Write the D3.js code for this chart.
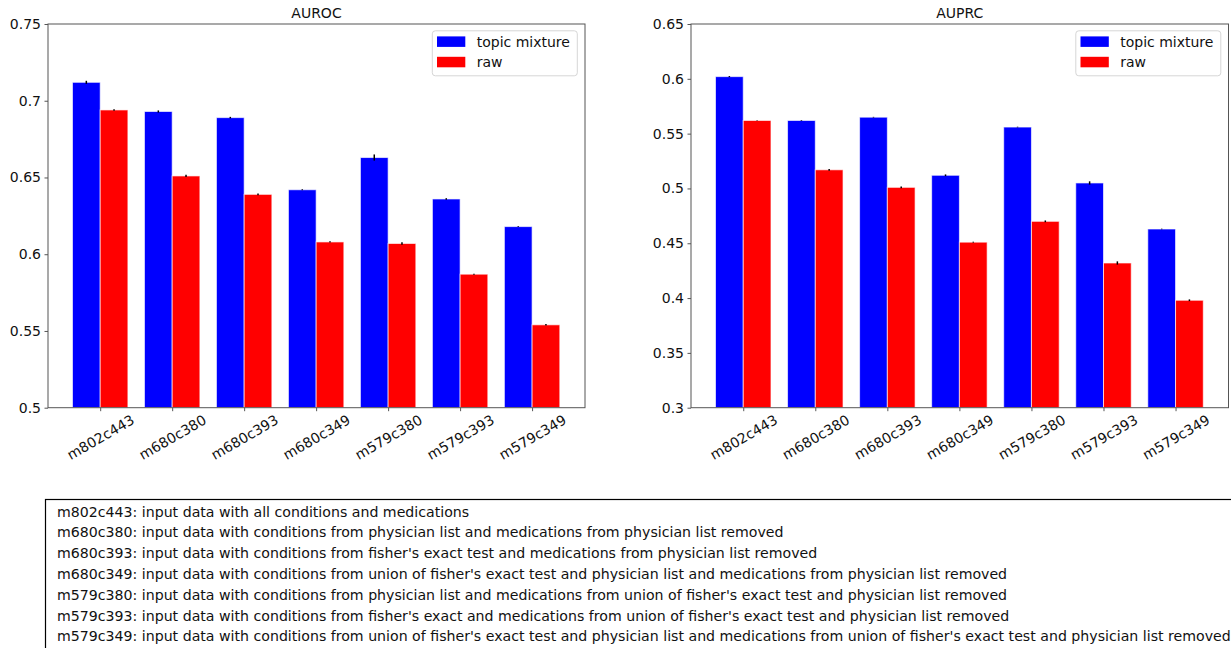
<!DOCTYPE html>
<html>
<head>
<meta charset="utf-8">
<script src="https://cdn.jsdelivr.net/npm/d3@7"></script>
<style>
  html, body { margin: 0; padding: 0; background: #fff; overflow: hidden; }
  svg { display: block; font-family: "DejaVu Sans", sans-serif; }
</style>
</head>
<body>
<svg id="fig" width="1231" height="648"></svg>
<script>
// Dataset variants (x categories)
const categories = ["m802c443", "m680c380", "m680c393", "m680c349", "m579c380", "m579c393", "m579c349"];
const seriesNames = ["topic mixture", "raw"];
const seriesColors = ["#0000ff", "#ff0000"];

// AUROC per variant
const aurocTopic    = [0.712, 0.693, 0.689, 0.642, 0.663, 0.636, 0.618];
const aurocRaw      = [0.694, 0.651, 0.639, 0.608, 0.607, 0.587, 0.554];
const aurocTopicErr = [0.0010, 0.0007, 0.0005, 0.0003, 0.0020, 0.0005, 0.0003];
const aurocRawErr   = [0.0005, 0.0007, 0.0005, 0.0004, 0.0008, 0.0003, 0.0005];
const aurocTicks    = [0.5, 0.55, 0.6, 0.65, 0.7, 0.75];

// AUPRC per variant
const auprcTopic    = [0.602, 0.562, 0.565, 0.512, 0.556, 0.505, 0.463];
const auprcRaw      = [0.562, 0.517, 0.501, 0.451, 0.470, 0.432, 0.398];
const auprcTopicErr = [0.0005, 0.0003, 0.0003, 0.0008, 0.0003, 0.0015, 0.0003];
const auprcRawErr   = [0.0003, 0.0008, 0.0008, 0.0004, 0.0008, 0.0015, 0.0008];
const auprcTicks    = [0.3, 0.35, 0.4, 0.45, 0.5, 0.55, 0.6, 0.65];

// Legend text for the variant codes
const descriptions = [
  "m802c443: input data with all conditions and medications",
  "m680c380: input data with conditions from physician list and medications from physician list removed",
  "m680c393: input data with conditions from fisher's exact test and medications from physician list removed",
  "m680c349: input data with conditions from union of fisher's exact test and physician list and medications from physician list removed",
  "m579c380: input data with conditions from physician list and medications from union of fisher's exact test and physician list removed",
  "m579c393: input data with conditions from fisher's exact and medications from union of fisher's exact test and physician list removed",
  "m579c349: input data with conditions from union of fisher's exact test and physician list and medications from union of fisher's exact test and physician list removed"
];

const svg = d3.select("#fig");
const TEXT = "#111";
const SPINE = "#555";
const fmt = d => String(+d.toFixed(2));

function drawPanel(opts) {
  const { left, right, top, bottom, title, ticks, series, errors } = opts;
  const g = svg.append("g");

  const x = d3.scaleLinear().domain([-0.725, categories.length - 1 + 0.735]).range([left, right]);
  const y = d3.scaleLinear().domain([ticks[0], ticks[ticks.length - 1]]).range([bottom, top]);
  const bw = 0.385;

  // bars
  series.forEach((vals, s) => {
    g.append("g").selectAll("rect").data(vals).join("rect")
      .attr("x", (d, i) => s === 0 ? x(i - bw) : x(i))
      .attr("width", x(bw) - x(0))
      .attr("y", d => y(d))
      .attr("height", d => y(ticks[0]) - y(d))
      .attr("fill", seriesColors[s])
      .attr("stroke", "#fff")
      .attr("stroke-opacity", 0.65)
      .attr("stroke-width", 1);
  });

  // error bars
  series.forEach((vals, s) => {
    g.append("g").selectAll("line").data(vals).join("line")
      .attr("x1", (d, i) => x(s === 0 ? i - bw / 2 : i + bw / 2))
      .attr("x2", (d, i) => x(s === 0 ? i - bw / 2 : i + bw / 2))
      .attr("y1", (d, i) => y(d - errors[s][i]))
      .attr("y2", (d, i) => y(d + errors[s][i]))
      .attr("stroke", "#000")
      .attr("stroke-width", 1.5);
  });

  // frame
  g.append("rect")
    .attr("x", left).attr("y", top)
    .attr("width", right - left).attr("height", bottom - top)
    .attr("fill", "none").attr("stroke", SPINE).attr("stroke-width", 1);

  // y axis
  const ya = g.append("g").attr("transform", `translate(${left},0)`)
    .call(d3.axisLeft(y).tickValues(ticks).tickFormat(fmt).tickSize(3.5).tickPadding(3.5));
  ya.select(".domain").remove();
  ya.selectAll("line").attr("stroke", SPINE);
  ya.selectAll("text").attr("fill", TEXT).style("font-size", "14px")
    .style("font-family", "DejaVu Sans, sans-serif");

  // x axis
  const xa = g.append("g").attr("transform", `translate(0,${bottom})`)
    .call(d3.axisBottom(x).tickValues(d3.range(categories.length))
      .tickFormat(i => categories[i]).tickSize(3.5));
  xa.select(".domain").remove();
  xa.selectAll("line").attr("stroke", SPINE);
  xa.selectAll("text")
    .attr("fill", TEXT)
    .style("font-size", "14px")
    .style("font-family", "DejaVu Sans, sans-serif")
    .attr("dy", null)
    .attr("y", 0)
    .attr("text-anchor", "middle")
    .attr("dominant-baseline", "central")
    .attr("transform", "translate(0,29.5) rotate(-30)");

  // title
  g.append("text")
    .attr("x", (left + right) / 2).attr("y", 18)
    .attr("text-anchor", "middle")
    .attr("fill", TEXT)
    .style("font-size", "14px")
    .text(title);

  // legend
  const lw = 145, lh = 45;
  const lx = right - 152.7, ly = top + 6.8;
  const lg = g.append("g").attr("transform", `translate(${lx},${ly})`);
  lg.append("rect").attr("width", lw).attr("height", lh).attr("rx", 3)
    .attr("fill", "#fff").attr("fill-opacity", 0.8)
    .attr("stroke", "#d6d6d6").attr("stroke-width", 1);
  seriesNames.forEach((name, s) => {
    lg.append("rect").attr("x", 4.7).attr("y", 5.6 + s * 20.4)
      .attr("width", 28.3).attr("height", 10.5).attr("fill", seriesColors[s]);
    lg.append("text").attr("x", 44.4).attr("y", 15.8 + s * 20.4)
      .attr("fill", TEXT).style("font-size", "14px").text(name);
  });
}

drawPanel({
  left: 48, right: 585, top: 24, bottom: 407.7,
  title: "AUROC", ticks: aurocTicks,
  series: [aurocTopic, aurocRaw], errors: [aurocTopicErr, aurocRawErr]
});

drawPanel({
  left: 691, right: 1228.5, top: 24, bottom: 407.7,
  title: "AUPRC", ticks: auprcTicks,
  series: [auprcTopic, auprcRaw], errors: [auprcTopicErr, auprcRawErr]
});

// description box
const box = svg.append("g");
box.append("rect")
  .attr("x", 45.5).attr("y", 499.5)
  .attr("width", 1240).attr("height", 200)
  .attr("fill", "#fff").attr("stroke", "#000").attr("stroke-width", 1.2);
box.selectAll("text").data(descriptions).join("text")
  .attr("x", 57)
  .attr("y", (d, i) => 516.5 + i * 20.8)
  .attr("fill", TEXT)
  .style("font-size", "14.15px")
  .text(d => d);
</script>
</body>
</html>
